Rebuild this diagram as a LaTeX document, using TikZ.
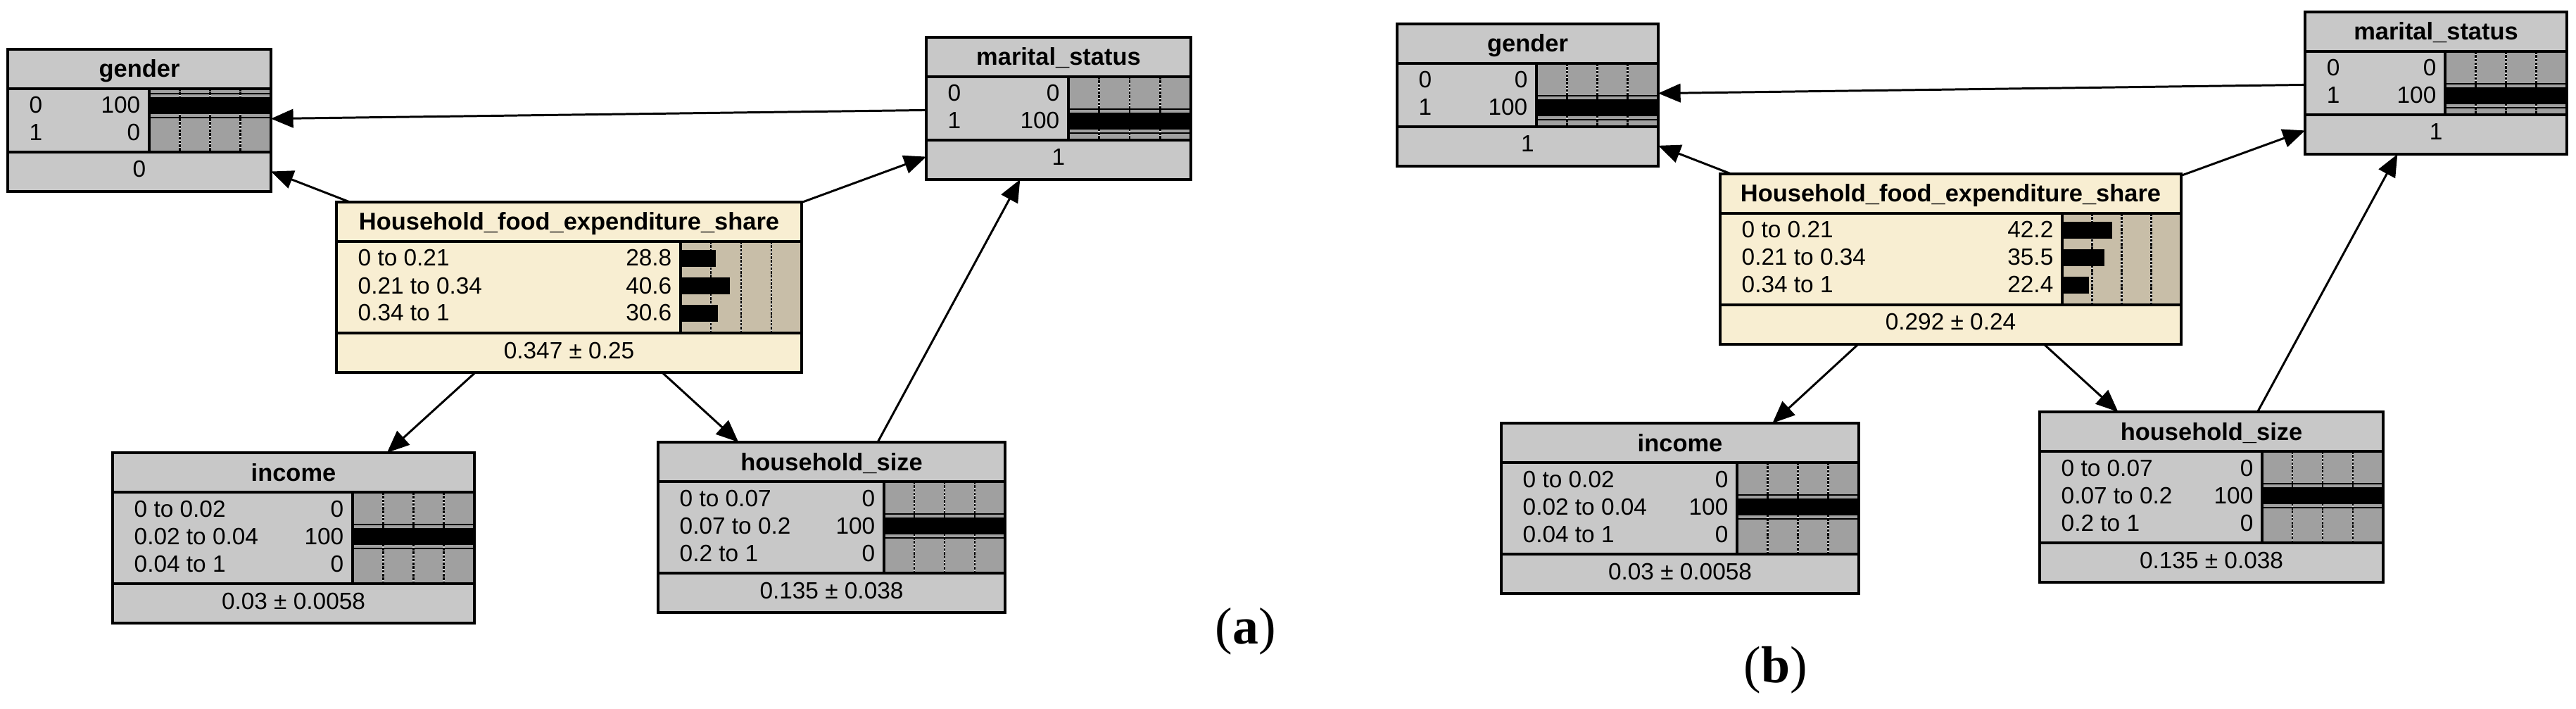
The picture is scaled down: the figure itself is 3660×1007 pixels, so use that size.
\documentclass[tikz,border=0pt]{standalone}
\usepackage{fontspec}
\setmainfont{Liberation Sans}
\newfontfamily\panelfont{Liberation Serif}
\usetikzlibrary{arrows.meta}

\definecolor{bnfill}{RGB}{200,200,200}
\definecolor{bnbar}{RGB}{160,160,160}
\definecolor{hffill}{RGB}{248,238,210}
\definecolor{hfbar}{RGB}{200,190,168}

% #1 name, #2 top left, #3 width, #4 bar start, #5 states, #6 colours,
% #7 title, #8 state/belief list, #9 mean
\newcommand{\netnode}[9]{%
  \begin{scope}[shift={(#2)}]
    \pgfmathsetmacro\tabh{10+40*#5}
    \pgfmathsetmacro\toth{112+\tabh}
    \fill[#6fill] (0,0) rectangle (#3,\toth);
    \fill[#6bar] (#4,56) rectangle (#3,{56+\tabh});
    \foreach \q in {0.25,0.5,0.75}
      \draw[gridline] ({#4+\q*(#3-#4)},56) -- ++(0,\tabh);
    \foreach \lab/\val [count=\i from 0] in {#8} {
      \pgfmathsetmacro\ry{80+39*\i}
      \node[rowtext, anchor=base west] at (30,{\ry+11}) {\lab};
      \node[rowtext, anchor=base east] at ({#4-12},{\ry+11}) {\val};
      \fill (#4,{\ry-12}) rectangle ++({\val/100*(#3-#4)},24);
      \ifdim\val pt=100pt
        \draw[evline] (#4,{\ry-17}) -- (#3,{\ry-17}) (#4,{\ry+17}) -- (#3,{\ry+17});
      \fi
    }
    \draw[sepline] (0,56) -- (#3,56) (0,{56+\tabh}) -- (#3,{56+\tabh})
      (#4,56) -- (#4,{56+\tabh});
    \node[titletext, anchor=base] at ({#3/2},40) {#7};
    \node[rowtext, anchor=base] at ({#3/2},{56+\tabh+36}) {#9};
    \node[netbox, minimum width=#3*0.1mm, minimum height=\toth*0.1mm] (#1) at (0,0) {};
  \end{scope}}

\begin{document}
\begin{tikzpicture}[x=0.1mm, y=-0.1mm,
    netbox/.style={draw, line width=0.9pt, inner sep=0pt, outer sep=0pt, anchor=north west},
    sepline/.style={line width=0.9pt},
    evline/.style={line width=0.5pt},
    gridline/.style={white!85!black, line width=0.75pt,
      postaction={draw=black, dash pattern=on 1pt off 0.5pt}},
    rowtext/.style={inner sep=0pt, font=\fontsize{9.5pt}{11pt}\selectfont},
    titletext/.style={inner sep=0pt, font=\fontsize{9.8pt}{11pt}\selectfont\bfseries},
    panellabel/.style={inner sep=0pt, font=\fontsize{21pt}{24pt}\selectfont\panelfont}]
  \useasboundingbox (0,0) rectangle (3660,1007);

  % (a)
  \netnode{gA}{11,70}{374}{201}{2}{bn}{gender}{0/100, 1/0}{0}
  \netnode{msA}{1316,53}{376}{202}{2}{bn}{marital\_status}{0/0, 1/100}{1}
  \netnode{hfA}{478,287}{661}{489}{3}{hf}{Household\_food\_expenditure\_share}%
    {0 to 0.21/28.8, 0.21 to 0.34/40.6, 0.34 to 1/30.6}{0.347 ± 0.25}
  \netnode{incA}{160,643}{514}{341}{3}{bn}{income}%
    {0 to 0.02/0, 0.02 to 0.04/100, 0.04 to 1/0}{0.03 ± 0.0058}
  \netnode{hsA}{935,628}{493}{321}{3}{bn}{household\_size}%
    {0 to 0.07/0, 0.07 to 0.2/100, 0.2 to 1/0}{0.135 ± 0.038}
  \node[panellabel] (labA) at (1770,897) {(\textbf{a})};

  % (b)
  \netnode{gB}{1985,34}{371}{198}{2}{bn}{gender}{0/0, 1/100}{1}
  \netnode{msB}{3275,17}{372}{199}{2}{bn}{marital\_status}{0/0, 1/100}{1}
  \netnode{hfB}{2444,247}{655}{486}{3}{hf}{Household\_food\_expenditure\_share}%
    {0 to 0.21/42.2, 0.21 to 0.34/35.5, 0.34 to 1/22.4}{0.292 ± 0.24}
  \netnode{incB}{2133,601}{508}{335}{3}{bn}{income}%
    {0 to 0.02/0, 0.02 to 0.04/100, 0.04 to 1/0}{0.03 ± 0.0058}
  \netnode{hsB}{2898,585}{488}{316}{3}{bn}{household\_size}%
    {0 to 0.07/0, 0.07 to 0.2/100, 0.2 to 1/0}{0.135 ± 0.038}
  \node[panellabel] (labB) at (2523,952) {(\textbf{b})};

  \begin{scope}[-{Triangle[length=9pt,width=7.5pt]}, line width=0.85pt]
    \draw (msA) to (gA);
    \draw (hfA) to (gA);
    \draw (hfA) to (msA);
    \draw (hfA) to (incA);
    \draw (hfA) to (hsA);
    \draw (hsA) to (msA);
    \draw (msB) to (gB);
    \draw (hfB) to (gB);
    \draw (hfB) to (msB);
    \draw (hfB) to (incB);
    \draw (hfB) to (hsB);
    \draw (hsB) to (msB);
  \end{scope}
\end{tikzpicture}
\end{document}
